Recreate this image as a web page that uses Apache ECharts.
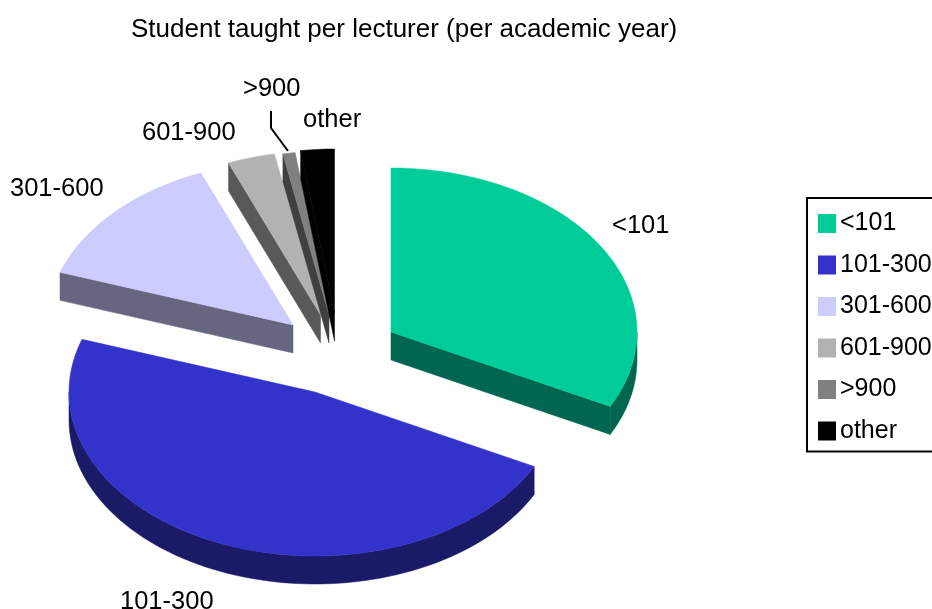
<!DOCTYPE html>
<html>
<head>
<meta charset="utf-8">
<style>
  html, body { margin: 0; padding: 0; background: #fff; }
  #chart { width: 932px; height: 609px; }
</style>
<script src="https://cdn.jsdelivr.net/npm/echarts@6/dist/echarts.min.js"></script>
</head>
<body>
<div id="chart"></div>
<script>
const categories = ["<101", "101-300", "301-600", "601-900", ">900", "other"];
const shares = [32.5, 47.7, 13.7, 3.1, 0.8, 2.2];

const top_colors = ["#00CC99", "#3333CC", "#CCCCFF", "#B2B2B2", "#808080", "#000000"];
const side_colors = ["#006650", "#1A1A66", "#666680", "#595959", "#404040", "#000000"];

// apex of each exploded slice on the canvas
const slice_apex = [[391, 332], [315, 392], [293, 325], [320.5, 315], [329, 315], [334.5, 313]];
const label_pos = [[612, 226], [120, 602], [10, 189], [142, 133], [243, 89], [303, 120]];

const font = "Liberation Sans, Arial, sans-serif";
const radius_x = 246;
const radius_y = 164;
const depth = 28;
const total = shares.reduce((a, b) => a + b, 0);

function onRim(apex, deg) {
  const t = deg * Math.PI / 180;
  return [apex[0] + radius_x * Math.sin(t), apex[1] - radius_y * Math.cos(t)];
}

function down(p) {
  return [p[0], p[1] + depth];
}

function face(points, fill) {
  return {
    type: "polygon",
    shape: { points },
    style: { fill, stroke: fill, lineWidth: 0.5 }
  };
}

function arc(apex, from, to) {
  const points = [];
  const steps = Math.max(1, Math.ceil((to - from) / 2));
  for (let i = 0; i <= steps; i++) {
    points.push(onRim(apex, from + (to - from) * i / steps));
  }
  return points;
}

function sliceItem(index, value) {
  const before = shares.slice(0, index).reduce((a, b) => a + b, 0);
  const from = before / total * 360;
  const to = from + value / total * 360;
  const apex = slice_apex[index];
  const side = side_colors[index];
  const children = [];

  // side walls that face the viewer
  if (from > 180 && from < 360) {
    const p = onRim(apex, from);
    children.push(face([apex, p, down(p), down(apex)], side));
  }
  if (to > 0 && to < 180) {
    const p = onRim(apex, to);
    children.push(face([apex, p, down(p), down(apex)], side));
  }
  const rim_from = Math.max(from, 90);
  const rim_to = Math.min(to, 270);
  if (rim_to > rim_from) {
    const rim = arc(apex, rim_from, rim_to);
    children.push(face(rim.concat(rim.map(down).reverse()), side));
  }

  children.push(face([apex].concat(arc(apex, from, to)), top_colors[index]));

  // >900 has a leader line up to its label
  if (categories[index] === ">900") {
    children.push({
      type: "polyline",
      shape: { points: [[271, 111], [271, 128], [288, 151]] },
      style: { stroke: "#000", lineWidth: 2, fill: "none" }
    });
  }

  children.push({
    type: "text",
    style: {
      text: categories[index],
      x: label_pos[index][0],
      y: label_pos[index][1],
      fill: "#000",
      font: "25.5px " + font,
      align: "left",
      verticalAlign: "middle"
    }
  });

  return { type: "group", children };
}

const series = categories.map((name, index) => ({
  type: "custom",
  name,
  coordinateSystem: "none",
  silent: true,
  animation: false,
  itemStyle: { color: top_colors[index] },
  data: [shares[index]],
  renderItem: (params, api) => sliceItem(index, api.value(0))
}));

const chart = echarts.init(document.getElementById("chart"));
chart.setOption({
  animation: false,
  backgroundColor: "#fff",
  title: {
    text: "Student taught per lecturer (per academic year)",
    left: 131,
    top: 17,
    padding: 0,
    textStyle: { fontFamily: font, fontSize: 26, fontWeight: "normal", color: "#000" }
  },
  legend: {
    orient: "vertical",
    left: 807,
    top: 198,
    padding: [13, 30, 8, 11],
    borderColor: "#000",
    borderWidth: 2,
    backgroundColor: "#fff",
    itemWidth: 18,
    itemHeight: 19,
    itemGap: 16.5,
    icon: "rect",
    selectedMode: false,
    textStyle: { fontFamily: font, fontSize: 25, color: "#000", padding: [0, 0, 0, -1] },
    data: categories
  },
  series
});
</script>
</body>
</html>
